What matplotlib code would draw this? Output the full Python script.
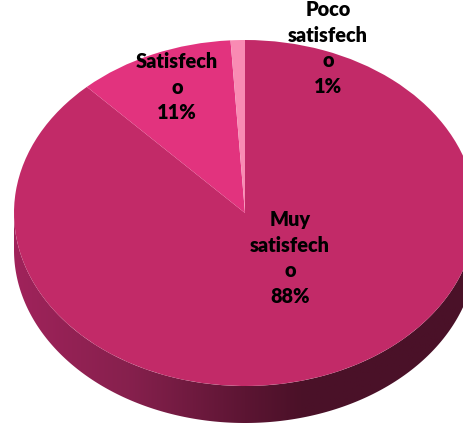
import numpy as np
import matplotlib
matplotlib.use("Agg")
import matplotlib.pyplot as plt
from matplotlib.patches import Polygon
from matplotlib.colors import LinearSegmentedColormap

# Survey results
categories = ["Muy\nsatisfech\no", "Satisfech\no", "Poco\nsatisfech\no"]
values = [88, 11, 1]
pct_labels = ["88%", "11%", "1%"]
colors = ["#c22a68", "#e2337e", "#f98bb3"]

W, H = 464, 428
fig = plt.figure(figsize=(W / 100, H / 100), dpi=100)
ax = fig.add_axes([0, 0, 1, 1])

# Ellipse geometry in pixels: centre, radii and side depth
cx, cy = 245.0, 213.0
rx, ry = 231.0, 173.0
depth = 37.0 / ry  # in pie units (y)


def set_view():
    ax.set_xlim(-cx / rx, (W - cx) / rx)
    ax.set_ylim(-(H - cy) / ry, cy / ry)
    ax.set_aspect("auto")
    ax.axis("off")


def px(x, y):
    return (x - cx) / rx, (cy - y) / ry


# Side wall of the disc (front half), shaded left to right
t = np.linspace(np.pi, 2 * np.pi, 300)
top = np.column_stack([np.cos(t), np.sin(t)])
bot = np.column_stack([np.cos(t[::-1]), np.sin(t[::-1]) - depth])
side = Polygon(np.vstack([top, bot]), closed=True, facecolor="none", edgecolor="none")
ax.add_patch(side)
side_cmap = LinearSegmentedColormap.from_list(
    "side", [(0.0, "#a0235b"), (0.25, "#86204d"), (0.5, "#5c1533"), (0.62, "#4b1128"), (1.0, "#4a1128")]
)
grad = np.linspace(0, 1, 256).reshape(1, -1)
im = ax.imshow(grad, cmap=side_cmap, extent=(-1, 1, -1 - depth, 0.1), aspect="auto", zorder=1)
im.set_clip_path(side)

# Top face
wedges, _ = ax.pie(values, colors=colors, startangle=90, counterclock=False,
                   radius=1, center=(0, 0), frame=True,
                   wedgeprops=dict(linewidth=0))
for w in wedges:
    w.set_zorder(2)
set_view()

# Data labels
label_pos = [(290, 258), (177, 87), (328, 48)]
for cat, pct, (lx, ly) in zip(categories, pct_labels, label_pos):
    ax.text(*px(lx, ly), f"{cat}\n{pct}", ha="center", va="center",
            fontsize=14.3, fontweight="heavy", family=["Lato", "DejaVu Sans"],
            linespacing=1.42, color="black", zorder=5)

fig.savefig("out.png", dpi=100)
